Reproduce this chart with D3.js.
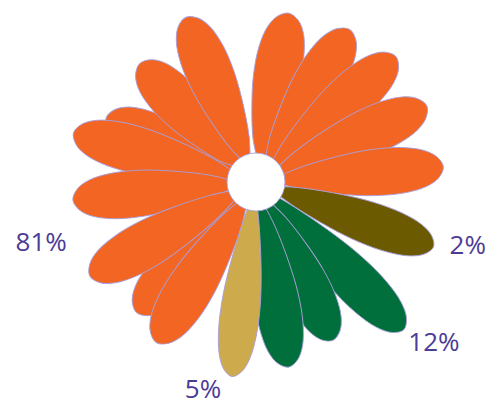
<!DOCTYPE html>
<html>
<head>
<meta charset="utf-8">
<script src="https://cdn.jsdelivr.net/npm/d3@7"></script>
<style>
  html, body { margin: 0; padding: 0; background: #fff; }
  svg { display: block; }
</style>
</head>
<body>
<svg id="chart"></svg>
<script>
const d3 = window.d3;

// categories and their shares
const categories = ["orange", "olive", "green", "tan"];
const shares = [81, 2, 12, 5];
const colors = ["#f26522", "#6b5a00", "#006f3b", "#cdaa4b"];

// petals, listed back to front: category index, direction (deg, clockwise from 12 o'clock), length
const petalCategory = [0, 0, 0, 0, 0, 0, 0, 0, 0, 0, 0, 0, 0, 1, 2, 2, 2, 3];
const petalAngle = [222.5, 293.4, 315.5, 337, 11, 31.5, 48, 66, 85.4, 285, 264.4, 240.4, 211.8, 110, 135, 154, 170, 187];
const petalLength = [177, 163, 166, 179, 172, 179, 188, 187, 188, 189, 184, 191, 189, 189, 209, 176, 188, 196];

// where each share label sits (deg, distance)
const labelAngle = [254.4, 106.6, 131.9, 194.4];
const labelDistance = [223, 221, 239, 213];

const width = 498, height = 407;
const cx = 256, cy = 182;
const holeRadius = 29;
const petalWidth = [48, 44, 46, 40];

const svg = d3.select("#chart")
    .attr("width", width)
    .attr("height", height);

const r = d3.scaleLinear().domain([0, 200]).range([0, 200]);
const toRad = d3.scaleLinear().domain([0, 360]).range([0, 2 * Math.PI]);

const g = svg.append("g").attr("transform", `translate(${cx},${cy})`);

const petalLine = d3.line().curve(d3.curveCatmullRomClosed.alpha(0.5));

function petalPath(len, w) {
    const L = r(len);
    const h = w / 2;
    const r0 = holeRadius - 4;
    const b = r0 * Math.sin(toRad(10));
    // half-width profile along the petal
    const prof = [[0.25, 0.48], [0.45, 0.8], [0.62, 0.96], [0.78, 0.95], [0.9, 0.76], [0.97, 0.44]];
    const top = prof.map(p => [p[0] * L, -p[1] * h]);
    const bottom = prof.slice().reverse().map(p => [p[0] * L, p[1] * h]);
    const pts = [[r0, -b], ...top, [L, 0], ...bottom, [r0, b], [r0 * 0.5, 0]];
    return petalLine(pts);
}

const petals = petalAngle.map((a, i) => ({
    angle: a,
    length: petalLength[i],
    cat: petalCategory[i]
}));

g.append("g")
    .selectAll("path")
    .data(petals)
    .join("path")
    .attr("d", d => petalPath(d.length, petalWidth[d.cat]))
    .attr("transform", d => `rotate(${d.angle - 90})`)
    .attr("fill", d => colors[d.cat])
    .attr("stroke", "#a99fdb")
    .attr("stroke-width", 0.9)
    .attr("stroke-linejoin", "round");

// white centre
g.append("circle")
    .attr("r", holeRadius)
    .attr("fill", "#fff")
    .attr("stroke", "#a99fdb")
    .attr("stroke-width", 0.9);

// share labels
g.append("g")
    .selectAll("text")
    .data(shares)
    .join("text")
    .attr("x", (d, i) => Math.sin(toRad(labelAngle[i])) * labelDistance[i])
    .attr("y", (d, i) => -Math.cos(toRad(labelAngle[i])) * labelDistance[i])
    .attr("dy", "0.36em")
    .attr("text-anchor", "middle")
    .attr("font-family", "'Open Sans', sans-serif")
    .attr("font-size", "26px")
    .attr("fill", "#4d3c97")
    .text(d => d + "%");
</script>
</body>
</html>
